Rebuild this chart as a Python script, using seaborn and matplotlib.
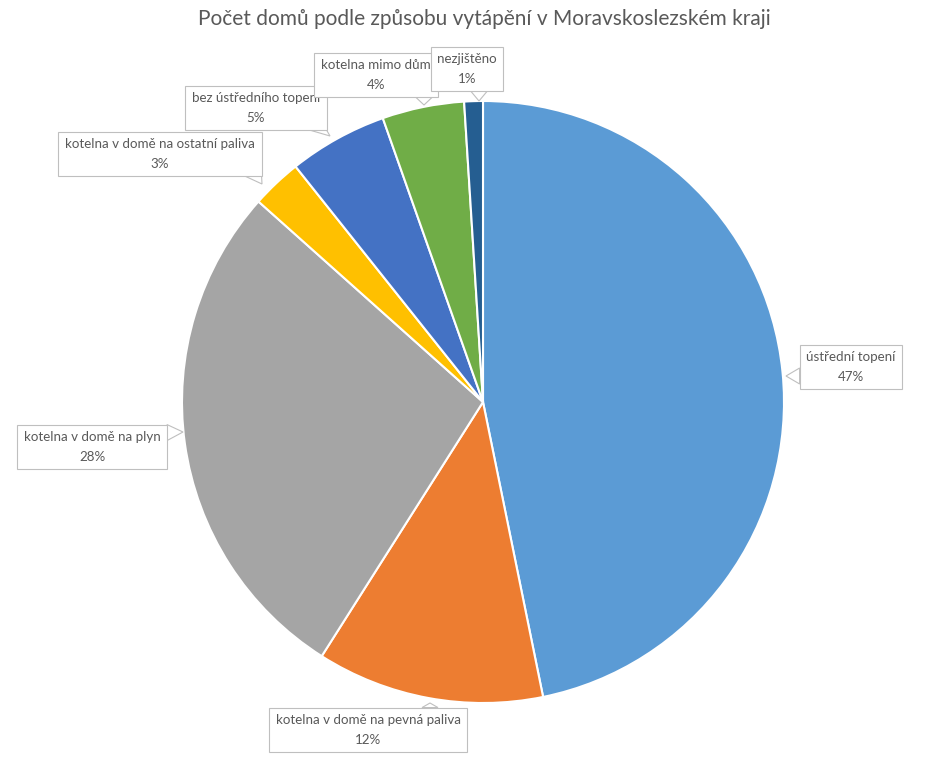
import matplotlib
matplotlib.use("Agg")
import matplotlib.pyplot as plt
from matplotlib.patches import Polygon
import seaborn as sns

categories = ["ústřední topení", "kotelna v domě na pevná paliva", "kotelna v domě na plyn",
              "kotelna v domě na ostatní paliva", "bez ústředního topení", "kotelna mimo dům",
              "nezjištěno"]
values = [46.8, 12.2, 27.6, 2.7, 5.3, 4.4, 1.0]
colors = ["#5B9BD5", "#ED7D31", "#A5A5A5", "#FFC000", "#4472C4", "#70AD47", "#255E91"]
title = "Počet domů podle způsobu vytápění v Moravskoslezském kraji"

# label box centres and pointer tips (pixel coords, y from top)
label_pos = [(851, 367), (368, 730), (92, 447), (160, 154), (256, 108), (376, 75), (467, 69)]
tip_pos = [(786, 376), (430, 703), (183, 432), (262, 184), (330, 136), (424, 105), (479, 101)]

sns.set_theme(style="white")
plt.rcParams["font.family"] = ["Lato", "DejaVu Sans"]

W, H = 931, 760
fig = plt.figure(figsize=(W / 100, H / 100), dpi=100)
ax = fig.add_axes([0, 0, 1, 1])

cx, cy, r = 483, 402, 301
ax.pie(values, colors=colors, startangle=90, counterclock=False,
       center=(cx, H - cy), radius=r, frame=True,
       wedgeprops=dict(edgecolor="white", linewidth=1.5))
ax.set_xlim(0, W)
ax.set_ylim(0, H)
ax.axis("off")

total = sum(values)
texts = []
for i in range(len(values)):
    txt = f"{categories[i]}\n{round(values[i] / total * 100)}%"
    lx, ly = label_pos[i]
    t = ax.text(lx, H - ly, txt, ha="center", va="center", fontsize=9.6, color="#595959",
                linespacing=1.75,
                bbox=dict(boxstyle="square,pad=0.5", fc="white", ec="#BFBFBF", lw=0.8),
                zorder=5)
    texts.append(t)

fig.text(484 / W, 1 - 19 / H, title, ha="center", va="center", fontsize=15, color="#595959")

fig.canvas.draw()
inv = ax.transData.inverted()
for i, t in enumerate(texts):
    bb = t.get_bbox_patch().get_window_extent()
    (x0, y0), (x1, y1) = inv.transform([(bb.x0, bb.y0), (bb.x1, bb.y1)])
    tx, ty = tip_pos[i][0], H - tip_pos[i][1]
    hw = 8
    # choose edge nearest to the tip
    if ty < y0:
        px = min(max(tx, x0 + hw), x1 - hw)
        base = [(px - hw, y0), (px + hw, y0)]
    elif ty > y1:
        px = min(max(tx, x0 + hw), x1 - hw)
        base = [(px - hw, y1), (px + hw, y1)]
    elif tx < x0:
        py = min(max(ty, y0 + hw), y1 - hw)
        base = [(x0, py - hw), (x0, py + hw)]
    else:
        py = min(max(ty, y0 + hw), y1 - hw)
        base = [(x1, py - hw), (x1, py + hw)]
    poly = Polygon([base[0], (tx, ty), base[1]], closed=True, fc="white",
                   ec="#BFBFBF", lw=0.8, zorder=4)
    ax.add_patch(poly)

fig.savefig("out.png", dpi=100, facecolor="white")
